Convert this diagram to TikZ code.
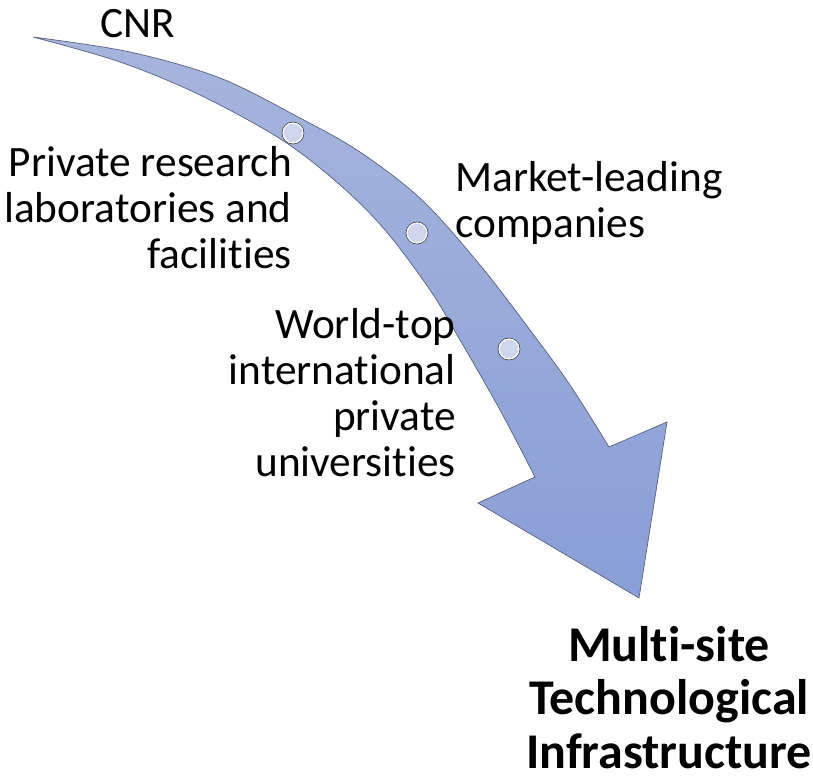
\documentclass[tikz,border=0pt]{standalone}
\usepackage{fontspec}
\setmainfont[Ligatures=NoCommon]{Carlito}
\usepackage{tikz}
\usetikzlibrary{calc}
\definecolor{flecheHaut}{RGB}{167,181,221}
\definecolor{flecheBas}{RGB}{137,158,215}
\definecolor{bord}{RGB}{84,94,122}
\definecolor{pastilleFond}{RGB}{208,214,236}
\tikzset{
  pastille/.style={circle,minimum size=15pt,inner sep=0pt,fill=pastilleFond,draw=white,line width=0.9pt,preaction={draw=black!80,line width=1.9pt}},
  etiquette/.style={inner sep=0pt,font=\fontsize{32.5}{34.5}\selectfont},
}

\begin{document}
\begin{tikzpicture}[x=0.75pt,y=-0.75pt]
\useasboundingbox (0,0) rectangle (813,780);

%Sommets de la tete
\coordinate (E) at (609,447);
\coordinate (B) at (667,422);
\coordinate (P) at (639,598);
\coordinate (C) at (478,503);
\coordinate (I) at (535,477);

%Fleche
\draw[top color=flecheHaut,bottom color=flecheBas,draw=bord,line width=0.5pt]
  plot[smooth,tension=0.55] coordinates {(33,37) (130,52) (220,78) (300,118) (360,152) (422,200) (480,265) (530,330) (570,385) (609,447)}
  -- (B) -- (P) -- (C) -- (I)
  -- plot[smooth,tension=0.55] coordinates {(535,477) (500,410) (460,340) (430,290) (385,230) (340,185) (282,140) (200,95) (120,62) (33,37)}
  -- cycle;

%Pastilles
\node[pastille] (p1) at (293,133) {};
\node[pastille] (p2) at (417,233) {};
\node[pastille] (p3) at (509,349) {};

%Etiquettes
\node[etiquette,anchor=base west] (cnr) at (100,38) {CNR};
\node[etiquette,align=right,anchor=north east] (labo) at (292,146) {Private research\\laboratories and\\facilities};
\node[etiquette,align=left,anchor=north west] (marche) at (455,161) {Market-leading\\companies};
\node[etiquette,align=right,anchor=north east] (univ) at (456,308) {World-top\\international\\private\\universities};
\node[etiquette,align=center,anchor=north,font=\bfseries\fontsize{37.5}{40}\selectfont] (infra) at (669,626) {Multi-site\\Technological\\Infrastructure};

\end{tikzpicture}
\end{document}
